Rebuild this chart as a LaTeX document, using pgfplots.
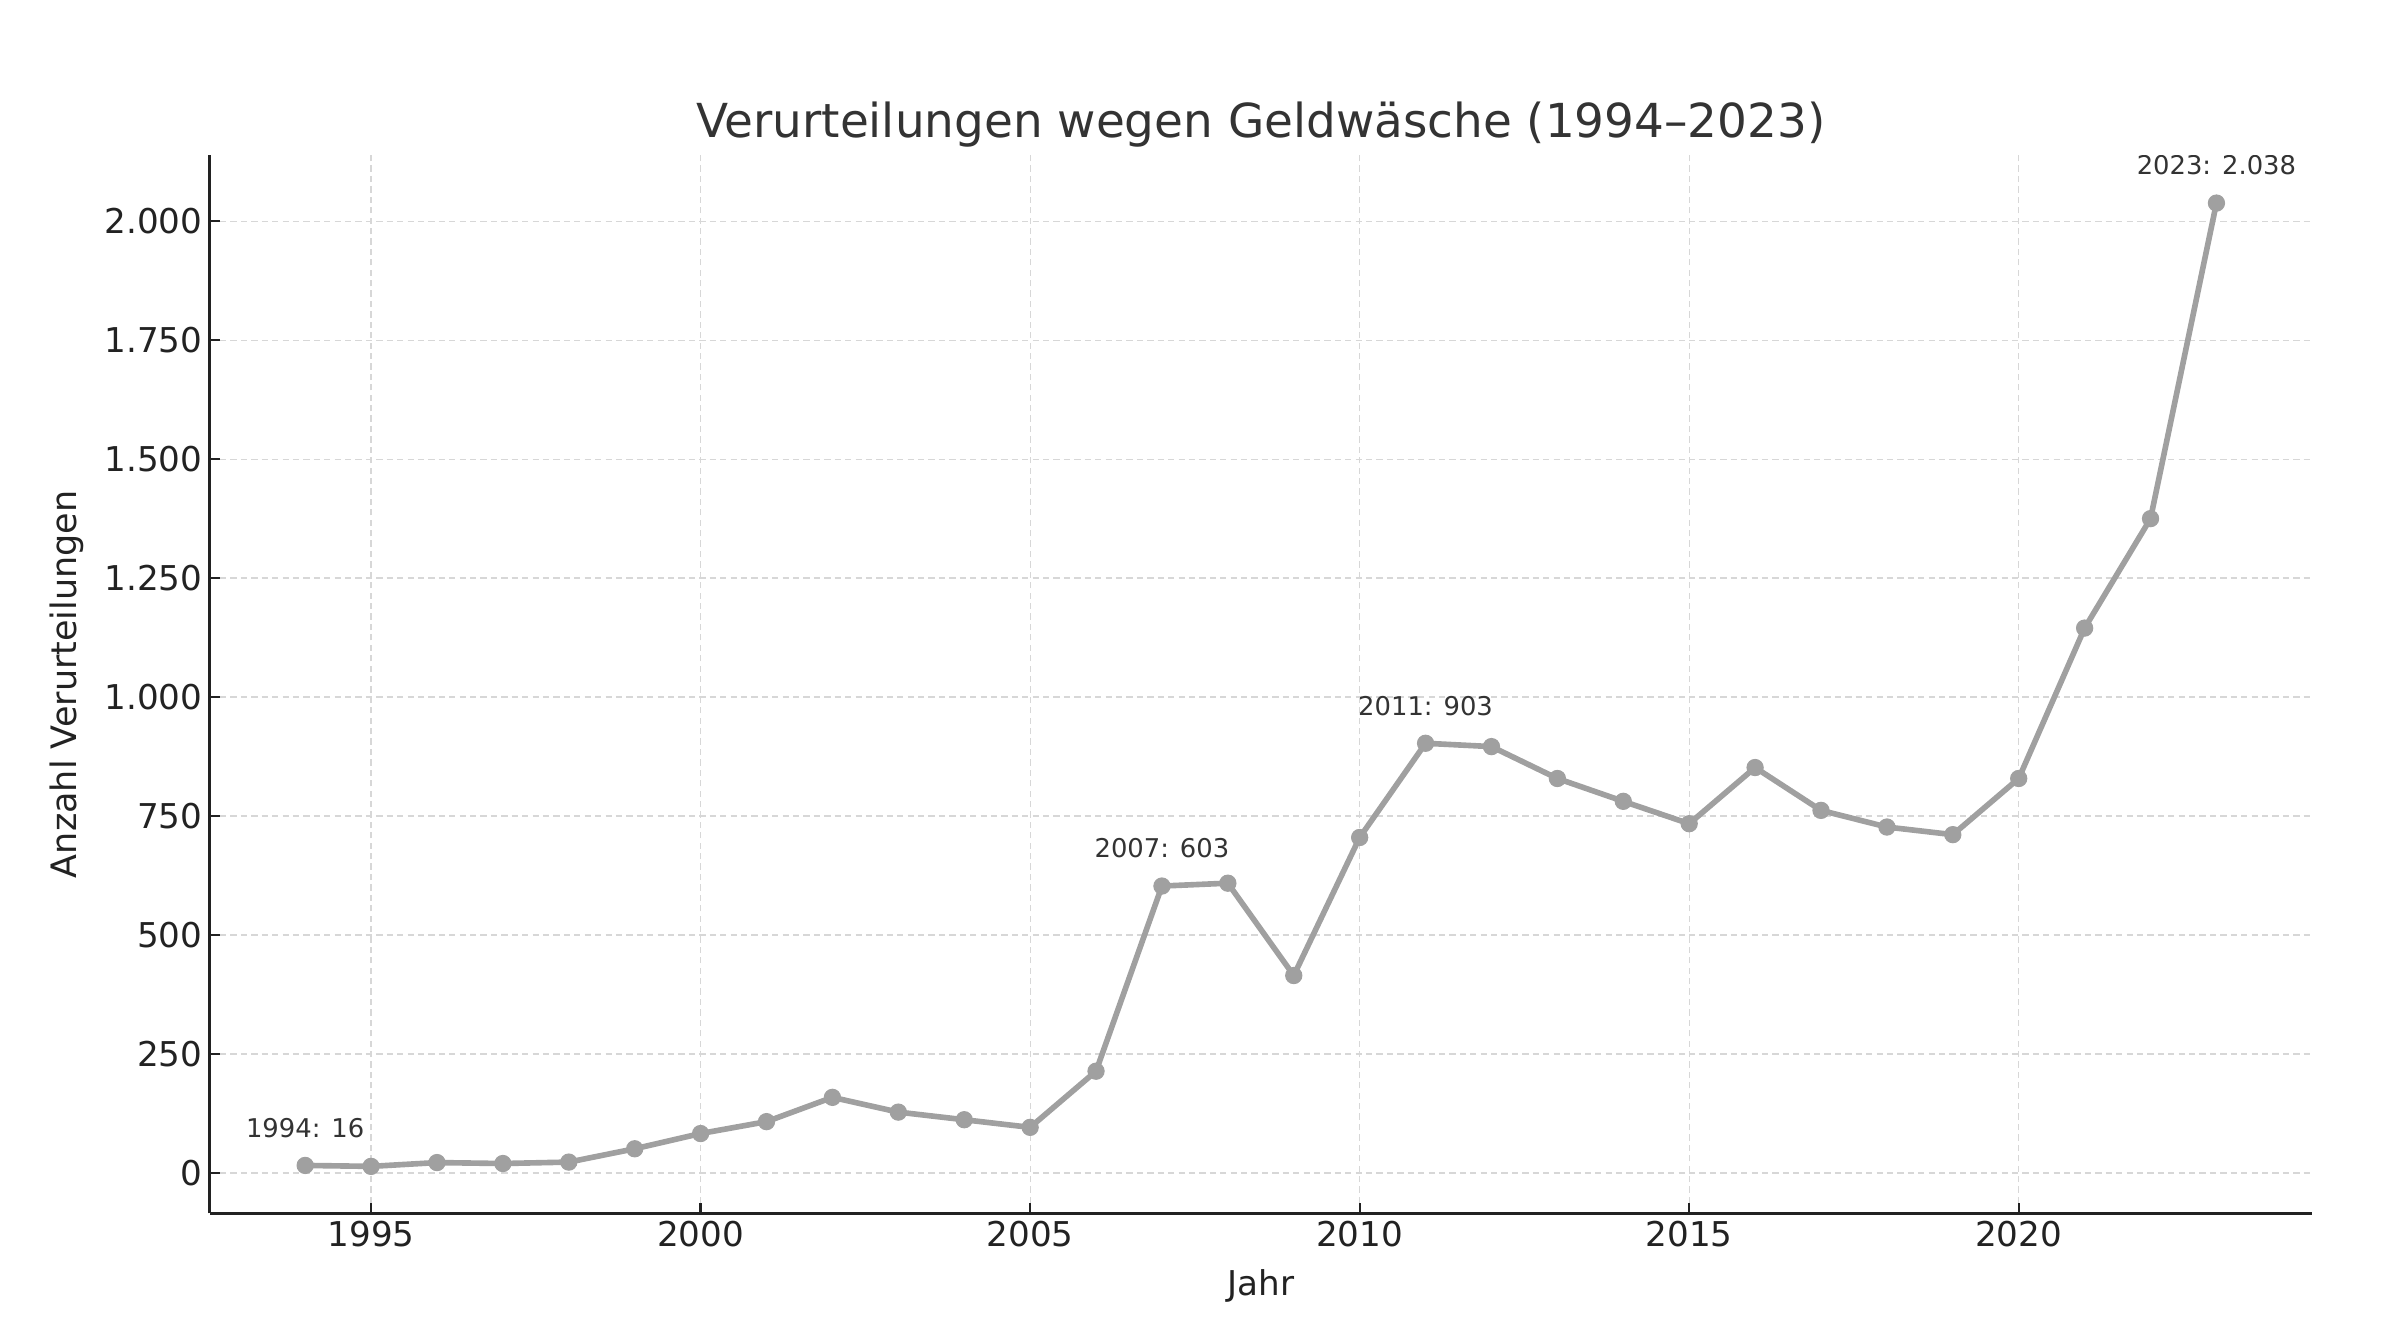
\documentclass[border=0pt]{standalone}
\usepackage{fontspec}
\setmainfont{DejaVu Sans}
\usepackage{pgfplots}
\pgfplotsset{compat=1.18}
\definecolor{linegray}{RGB}{160,160,160}
\definecolor{txt}{RGB}{34,34,34}
\definecolor{ttl}{RGB}{51,51,51}
\definecolor{gridc}{RGB}{215,215,215}
\begin{document}
\begin{tikzpicture}
\useasboundingbox (-100.6pt,-62.4pt) rectangle (1042.6pt,582.4pt);
\begin{axis}[
  at={(0,0)}, anchor=south west,
  scale only axis, width=1009pt, height=508pt,
  xmin=1992.55, xmax=2024.45, ymin=-85, ymax=2139,
  axis x line*=bottom, axis y line*=left,
  axis line style={-, line width=1.3pt, color=txt},
  xtick={1995,2000,2005,2010,2015,2020},
  ytick={0,250,500,750,1000,1250,1500,1750,2000},
  tick align=inside, major tick length=4.8pt,
  every tick/.style={line width=1.1pt, color=txt},
  /pgf/number format/assume math mode=true,
  /pgf/number format/1000 sep={.},
  xticklabel style={/pgf/number format/1000 sep={}},
  ticklabel style={font=\fontsize{16.4}{19}\selectfont, text=txt},
  grid=major,
  major grid style={color=gridc, line width=0.6pt, dash pattern=on 3pt off 2pt},
  title={Verurteilungen wegen Geldwäsche (1994–2023)},
  title style={font=\fontsize{22.5}{27}\selectfont, text=ttl, at={(axis description cs:0.5,1.0171)}, anchor=center},
  xlabel={Jahr},
  xlabel style={font=\fontsize{16.4}{19}\selectfont, text=txt, at={(axis description cs:0.5,-0.0689)}, anchor=center},
  ylabel={Anzahl Verurteilungen},
  ylabel style={font=\fontsize{16.8}{19}\selectfont, text=txt, at={(axis description cs:-0.0679,0.5)}, anchor=center},
]
\addplot[color=linegray, line width=2.7pt, mark=*, mark size=3.9pt, mark options={fill=linegray, draw=linegray, line width=0.5pt}] coordinates {
(1994,16) (1995,14) (1996,22) (1997,20) (1998,23) (1999,51) (2000,83)
(2001,108) (2002,159) (2003,128) (2004,112) (2005,96) (2006,214)
(2007,603) (2008,609) (2009,415) (2010,705) (2011,903) (2012,896)
(2013,829) (2014,781) (2015,734) (2016,852) (2017,762) (2018,727)
(2019,711) (2020,829) (2021,1145) (2022,1375) (2023,2038)
};
\node[font=\fontsize{12.4}{15}\selectfont, text=ttl, anchor=center, yshift=18pt] at (axis cs:1994,16) {1994: 16};
\node[font=\fontsize{12.4}{15}\selectfont, text=ttl, anchor=center, yshift=18pt] at (axis cs:2007,603) {2007: 603};
\node[font=\fontsize{12.4}{15}\selectfont, text=ttl, anchor=center, yshift=18pt] at (axis cs:2011,903) {2011: 903};
\node[font=\fontsize{12.4}{15}\selectfont, text=ttl, anchor=center, yshift=18pt] at (axis cs:2023,2038) {2023: 2.038};
\end{axis}
\end{tikzpicture}
\end{document}
